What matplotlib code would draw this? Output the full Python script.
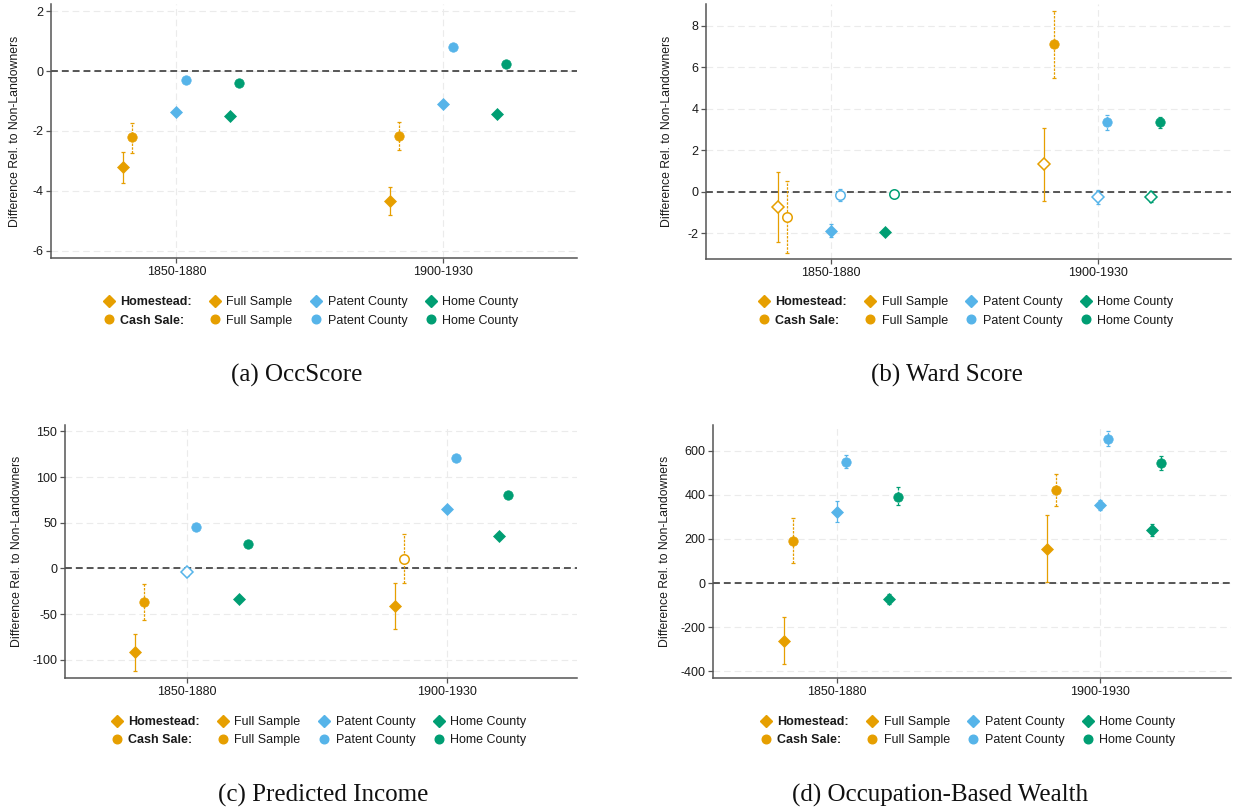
import matplotlib
matplotlib.use("Agg")
import matplotlib.pyplot as plt
from matplotlib.lines import Line2D

plt.rcParams["font.family"] = ["Liberation Sans", "DejaVu Sans"]
plt.rcParams["font.size"] = 9
plt.rcParams["axes.unicode_minus"] = False

periods = ["1850-1880", "1900-1930"]
samples = ["Full Sample", "Patent County", "Home County"]
colors = ["#E69F00", "#56B4E9", "#009E73"]

# estimates: rows are periods, columns are samples (full, patent county, home county)
occ_hs = [[-3.22, -1.38, -1.49], [-4.34, -1.10, -1.44]]
occ_hs_lo = [[-3.74, -1.46, -1.57], [-4.80, -1.18, -1.52]]
occ_hs_hi = [[-2.69, -1.30, -1.41], [-3.89, -1.02, -1.36]]
occ_cs = [[-2.21, -0.30, -0.38], [-2.16, 0.81, 0.24]]
occ_cs_lo = [[-2.72, -0.38, -0.46], [-2.63, 0.73, 0.16]]
occ_cs_hi = [[-1.72, -0.22, -0.30], [-1.69, 0.89, 0.32]]

ward_hs = [[-0.76, -1.89, -1.94], [1.31, -0.26, -0.26]]
ward_hs_lo = [[-2.45, -2.18, -2.06], [-0.44, -0.60, -0.48]]
ward_hs_hi = [[0.97, -1.56, -1.82], [3.06, 0.08, 0.03]]
ward_cs = [[-1.21, -0.15, -0.10], [7.10, 3.34, 3.34]]
ward_cs_lo = [[-2.94, -0.44, -0.22], [5.48, 2.98, 3.08]]
ward_cs_hi = [[0.52, 0.15, 0.02], [8.71, 3.71, 3.61]]

inc_hs = [[-92.0, -4.0, -33.8], [-41.1, 65.1, 36.0]]
inc_hs_lo = [[-112.4, -8.5, -36.8], [-66.2, 62.1, 33.0]]
inc_hs_hi = [[-71.6, 0.5, -30.8], [-15.6, 68.1, 39.0]]
inc_cs = [[-36.7, 45.1, 26.9], [10.2, 120.7, 80.4]]
inc_cs_lo = [[-56.0, 42.1, 23.9], [-16.4, 117.7, 77.4]]
inc_cs_hi = [[-16.7, 48.1, 29.9], [37.5, 123.7, 83.4]]

wealth_hs = [[-262, 323, -72], [156, 353, 239]]
wealth_hs_lo = [[-367, 275, -96], [6, 331, 212]]
wealth_hs_hi = [[-155, 371, -50], [308, 376, 266]]
wealth_cs = [[192, 549, 392], [421, 654, 543]]
wealth_cs_lo = [[90, 522, 352], [350, 623, 511]]
wealth_cs_hi = [[296, 579, 435], [495, 687, 576]]

offsets = [-0.2, 0.0, 0.2]
cash_shift = 0.034
W, H = 1233, 811

fig = plt.figure(figsize=(W / 100, H / 100), dpi=100)


def px_axes(left, top, right, bottom):
    return fig.add_axes([left / W, 1 - bottom / H, (right - left) / W, (bottom - top) / H])


def draw_points(ax, est, lo, hi, marker, ms, bar_ls, shift):
    for p in range(len(periods)):
        for s in range(len(samples)):
            c = colors[s]
            x = p + 1 + offsets[s] + shift
            e, l, h = est[p][s], lo[p][s], hi[p][s]
            hollow = l <= 0 <= h
            eb = ax.errorbar([x], [e], yerr=[[e - l], [h - e]], fmt="none",
                             ecolor=c, elinewidth=0.9, capsize=1.6, capthick=0.9,
                             zorder=3)
            eb[2][0].set_linestyle(bar_ls)
            ax.plot([x], [e], marker=marker, ms=ms, color=c,
                    mfc="white" if hollow else c, mec=c,
                    mew=1.1 if hollow else 0.5, ls="none", zorder=4)


def draw_panel(rect, data, ylim, yticks, ylabel_x):
    ax = px_axes(*rect)
    hs, hs_lo, hs_hi, cs, cs_lo, cs_hi = data
    ax.axhline(0, color="#2a2a2a", lw=1.1, ls=(0, (4.5, 2.6)), zorder=2)
    draw_points(ax, hs, hs_lo, hs_hi, "D", 6.4, "-", 0.0)
    draw_points(ax, cs, cs_lo, cs_hi, "o", 6.8, (0, (2, 1)), cash_shift)

    ax.set_xlim(0.53, 2.5)
    ax.set_ylim(*ylim)
    ax.set_xticks([1, 2])
    ax.set_xticklabels(periods)
    ax.set_yticks(yticks)
    ax.grid(True, color="#ebebeb", lw=0.8, ls=(0, (6, 3.5)), zorder=0)
    ax.set_axisbelow(True)
    for side in ["top", "right"]:
        ax.spines[side].set_visible(False)
    for side in ["left", "bottom"]:
        ax.spines[side].set_color("#555555")
        ax.spines[side].set_linewidth(1.1)
    ax.tick_params(length=3.5, width=0.9, color="#555555", labelcolor="#1a1a1a",
                   labelsize=9, pad=2)
    ax.set_ylabel("Difference Rel. to Non-Landowners", fontsize=8.8, color="#1a1a1a")
    ax.yaxis.set_label_coords(ylabel_x, 0.5)
    return ax


def add_legend(cx, cy):
    head_hs = Line2D([], [], marker="D", ms=6.0, color=colors[0], ls="none")
    head_cs = Line2D([], [], marker="o", ms=6.2, color=colors[0], ls="none")
    handles = [head_hs, head_cs]
    labels = ["Homestead:", "Cash Sale:"]
    for s in range(len(samples)):
        handles.append(Line2D([], [], marker="D", ms=6.0, color=colors[s], ls="none"))
        handles.append(Line2D([], [], marker="o", ms=6.2, color=colors[s], ls="none"))
        labels += [samples[s], samples[s]]
    leg = fig.legend(handles, labels, ncol=4, loc="center",
                     bbox_to_anchor=(cx / W, 1 - cy / H), frameon=False,
                     fontsize=9, handlelength=0.8, handletextpad=0.5,
                     columnspacing=1.5, labelspacing=0.5, borderpad=0)
    for t in leg.get_texts()[:2]:
        t.set_fontweight("bold")
    for t in leg.get_texts():
        t.set_color("#1a1a1a")


panels = [
    ((51, 4, 577, 258), (occ_hs, occ_hs_lo, occ_hs_hi, occ_cs, occ_cs_lo, occ_cs_hi),
     (-6.25, 2.25), [-6, -4, -2, 0, 2], -0.057, (311, 311.5), "(a) OccScore", (297, 375)),
    ((706, 4, 1231, 259), (ward_hs, ward_hs_lo, ward_hs_hi, ward_cs, ward_cs_lo, ward_cs_hi),
     (-3.25, 9.05), [-2, 0, 2, 4, 6, 8], -0.063, (966, 311.5), "(b) Ward Score", (947, 375)),
    ((65, 425, 577, 678), (inc_hs, inc_hs_lo, inc_hs_hi, inc_cs, inc_cs_lo, inc_cs_hi),
     (-120, 157), [-100, -50, 0, 50, 100, 150], -0.082, (319, 731),
     "(c) Predicted Income", (323, 795)),
    ((713, 425, 1231, 678), (wealth_hs, wealth_hs_lo, wealth_hs_hi, wealth_cs, wealth_cs_lo, wealth_cs_hi),
     (-430, 716), [-400, -200, 0, 200, 400, 600], -0.081, (968, 731),
     "(d) Occupation-Based Wealth", (940, 795)),
]

for rect, data, ylim, yticks, ylx, leg_pos, caption, cap_pos in panels:
    draw_panel(rect, data, ylim, yticks, ylx)
    add_legend(*leg_pos)
    fig.text(cap_pos[0] / W, 1 - cap_pos[1] / H, caption, ha="center", va="center",
             fontsize=18, family=["Liberation Serif", "DejaVu Serif"], color="#111111")

fig.savefig("out.png", dpi=100)
